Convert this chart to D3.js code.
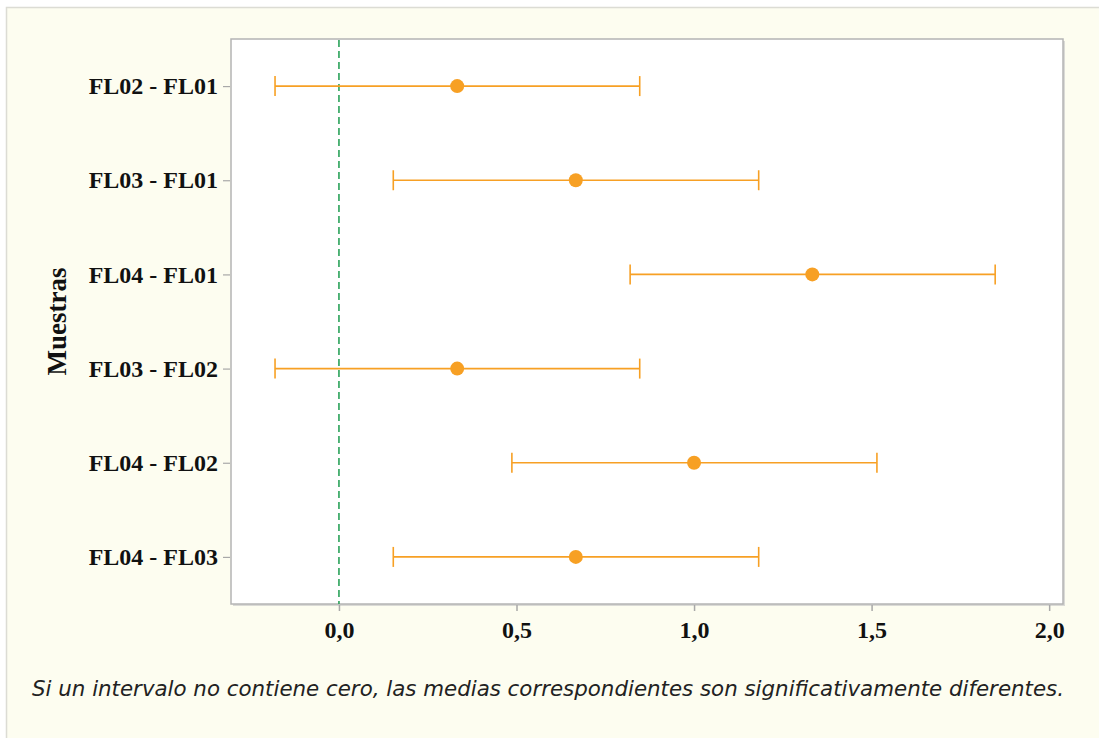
<!DOCTYPE html>
<html>
<head>
<meta charset="utf-8">
<script src="https://cdn.jsdelivr.net/npm/d3@7"></script>
<style>
    html, body { margin: 0; padding: 0; background: #ffffff; }
    svg { display: block; }
    .tickText { font-family: "Liberation Serif", "Times New Roman", serif; font-weight: bold; font-size: 24px; fill: #111; }
    .axisTitle { font-family: "Liberation Serif", "Times New Roman", serif; font-weight: bold; font-size: 27px; fill: #111; }
    .caption { font-family: "DejaVu Sans Condensed", "DejaVu Sans", sans-serif; font-style: italic; font-size: 22px; fill: #222; }
</style>
</head>
<body>
<script>
// Chart data.
var comparisons = ['FL02 - FL01', 'FL03 - FL01', 'FL04 - FL01', 'FL03 - FL02', 'FL04 - FL02', 'FL04 - FL03'];
var meanDiffs = [0.333, 0.667, 1.333, 0.333, 1.000, 0.667];
var lowerBounds = [-0.18, 0.153, 0.82, -0.18, 0.487, 0.153];
var upperBounds = [0.847, 1.182, 1.848, 0.847, 1.515, 1.182];
var xTicks = [0, 0.5, 1, 1.5, 2];
var yTitle = 'Muestras';
var captionText = 'Si un intervalo no contiene cero, las medias correspondientes son significativamente diferentes.';

var width = 1099,
    height = 738,
    plot = { left: 231, top: 39, right: 1063, bottom: 604 }, // Inner plot frame.
    orange = '#f7a024',
    fmt = d3.format( '.1f' );

var svg = d3.select( 'body' ).append( 'svg' )
    .attr( 'width', width )
    .attr( 'height', height );

// Page background with its thin border.
svg.append( 'rect' )
    .attr( 'x', 6.5 ).attr( 'y', 7.5 )
    .attr( 'width', width + 10 ).attr( 'height', height + 10 )
    .attr( 'fill', '#fdfdf0' )
    .attr( 'stroke', '#dcdcd4' )
    .attr( 'stroke-width', 1.5 );

var x = d3.scaleLinear()
    .domain( [-0.304, 2.039] )
    .range( [plot.left, plot.right] );

var y = d3.scalePoint()
    .domain( comparisons )
    .range( [plot.top, plot.bottom] )
    .padding( 0.5 );

// Plot frame.
svg.append( 'rect' )
    .attr( 'x', plot.left + 2 ).attr( 'y', plot.top + 2 )
    .attr( 'width', plot.right - plot.left ).attr( 'height', plot.bottom - plot.top )
    .attr( 'fill', '#dadad6' );
svg.append( 'rect' )
    .attr( 'x', plot.left ).attr( 'y', plot.top )
    .attr( 'width', plot.right - plot.left ).attr( 'height', plot.bottom - plot.top )
    .attr( 'fill', '#ffffff' )
    .attr( 'stroke', '#b4b4b4' )
    .attr( 'stroke-width', 1.5 );

// X axis.
var xAxis = svg.append( 'g' )
    .attr( 'transform', 'translate(0,' + ( plot.bottom + 1 ) + ')' )
    .call( d3.axisBottom( x ).tickValues( xTicks ).tickSize( 6 ).tickPadding( 8 )
        .tickFormat( d => fmt( d ).replace( '.', ',' ) ) );
xAxis.select( '.domain' ).remove();
xAxis.selectAll( '.tick line' ).attr( 'stroke', '#a8a8a8' ).attr( 'stroke-width', 1.5 );
xAxis.selectAll( '.tick text' ).attr( 'class', 'tickText' ).attr( 'dy', '0.8em' );

// Y axis.
var yAxis = svg.append( 'g' )
    .attr( 'transform', 'translate(' + ( plot.left - 1 ) + ',0)' )
    .call( d3.axisLeft( y ).tickSize( 7 ).tickPadding( 5 ) );
yAxis.select( '.domain' ).remove();
yAxis.selectAll( '.tick line' ).attr( 'stroke', '#a8a8a8' ).attr( 'stroke-width', 1.2 );
yAxis.selectAll( '.tick text' ).attr( 'class', 'tickText' );

svg.append( 'text' )
    .attr( 'class', 'axisTitle' )
    .attr( 'text-anchor', 'middle' )
    .attr( 'transform', 'translate(66,' + ( ( plot.top + plot.bottom ) / 2 ) + ') rotate(-90)' )
    .text( yTitle );

// Reference line at zero.
svg.append( 'line' )
    .attr( 'x1', x( 0 ) ).attr( 'x2', x( 0 ) )
    .attr( 'y1', plot.top + 1 ).attr( 'y2', plot.bottom )
    .attr( 'stroke', '#2aa25a' )
    .attr( 'stroke-width', 1.6 )
    .attr( 'stroke-dasharray', '7,4' );

// Intervals.
var rows = comparisons.map( ( c, i ) => ( { name: c, mean: meanDiffs[i], lo: lowerBounds[i], hi: upperBounds[i] } ) );
var g = svg.append( 'g' ).selectAll( 'g' )
    .data( rows )
    .join( 'g' )
    .attr( 'transform', d => 'translate(0,' + y( d.name ) + ')' );

g.append( 'line' )
    .attr( 'x1', d => x( d.lo ) ).attr( 'x2', d => x( d.hi ) )
    .attr( 'stroke', orange ).attr( 'stroke-width', 1.6 );
g.append( 'line' )
    .attr( 'x1', d => x( d.lo ) ).attr( 'x2', d => x( d.lo ) )
    .attr( 'y1', -10 ).attr( 'y2', 10 )
    .attr( 'stroke', orange ).attr( 'stroke-width', 1.6 );
g.append( 'line' )
    .attr( 'x1', d => x( d.hi ) ).attr( 'x2', d => x( d.hi ) )
    .attr( 'y1', -10 ).attr( 'y2', 10 )
    .attr( 'stroke', orange ).attr( 'stroke-width', 1.6 );
g.append( 'circle' )
    .attr( 'cx', d => x( d.mean ) )
    .attr( 'r', 7 )
    .attr( 'fill', orange );

// Caption.
svg.append( 'text' )
    .attr( 'class', 'caption' )
    .attr( 'x', 32 ).attr( 'y', 696 )
    .attr( 'textLength', 1032 )
    .attr( 'lengthAdjust', 'spacingAndGlyphs' )
    .text( captionText );
</script>
</body>
</html>
